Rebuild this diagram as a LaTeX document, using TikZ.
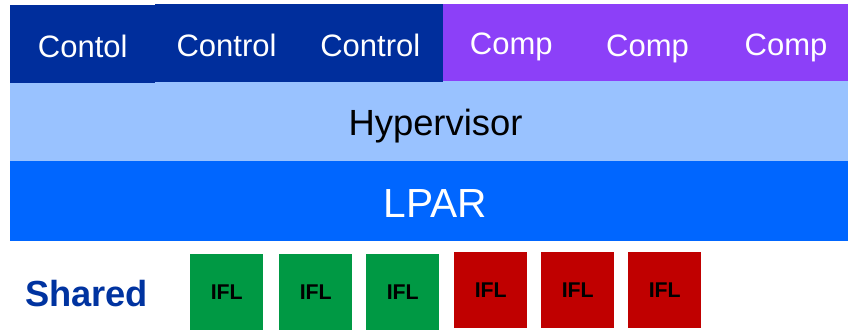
\documentclass[tikz,border=0pt]{standalone}
\usepackage{fontspec}
\setmainfont{Liberation Sans}
\definecolor{ctrlblue}{HTML}{002E9C}
\definecolor{comppurple}{HTML}{8C40F8}
\definecolor{hyperblue}{HTML}{99C2FF}
\definecolor{lparblue}{HTML}{0066FF}
\definecolor{iflgreen}{HTML}{009944}
\definecolor{iflred}{HTML}{C00000}
\definecolor{sharedblue}{HTML}{0033A0}
\tikzset{
  lbl/.style={anchor=base, inner sep=0pt, text=white, font=\fontsize{23.25}{28}\selectfont},
  ifl/.style={minimum width=54.75pt, minimum height=57pt, inner sep=0pt, anchor=north west,
              font=\fontsize{16}{18}\selectfont\bfseries, text=black},
}
\begin{document}
\begin{tikzpicture}[x=0.75pt,y=-0.75pt]
\useasboundingbox (0,0) rectangle (848,331);
% bands
\fill[hyperblue] (10,81) rectangle (848,160.7);
\fill[lparblue] (10,160.7) rectangle (848,240.7);
\fill[ctrlblue] (10,5) rectangle (155,83);
\fill[ctrlblue] (155,4) rectangle (443,82);
\fill[comppurple] (443,4) rectangle (848,81);
% top labels
\node[lbl] (c1) at (82.7,57.3) {Contol};
\node[lbl] (c2) at (226.5,57) {Control};
\node[lbl] (c3) at (370.3,57) {Control};
\node[lbl] (p1) at (511.3,55) {Comp};
\node[lbl] (p2) at (647.5,56.7) {Comp};
\node[lbl] (p3) at (786,56) {Comp};
\node[anchor=base, inner sep=0pt, font=\fontsize{27.3}{32}\selectfont] (hyp) at (435.5,136) {Hypervisor};
\node[anchor=base, inner sep=0pt, text=white, font=\fontsize{30.5}{36}\selectfont] (lpar) at (435,217.7) {LPAR};
% shared row
\node[anchor=base, inner sep=0pt, text=sharedblue, font=\fontsize{27.2}{32}\selectfont\bfseries] (shared) at (86.5,306) {Shared};
\node[ifl, fill=iflgreen] (g1) at (190,254) {IFL};
\node[ifl, fill=iflgreen] (g2) at (279,254) {IFL};
\node[ifl, fill=iflgreen] (g3) at (366,254) {IFL};
\node[ifl, fill=iflred] (r1) at (454,252) {IFL};
\node[ifl, fill=iflred] (r2) at (541,252) {IFL};
\node[ifl, fill=iflred] (r3) at (628,252) {IFL};
\end{tikzpicture}
\end{document}
